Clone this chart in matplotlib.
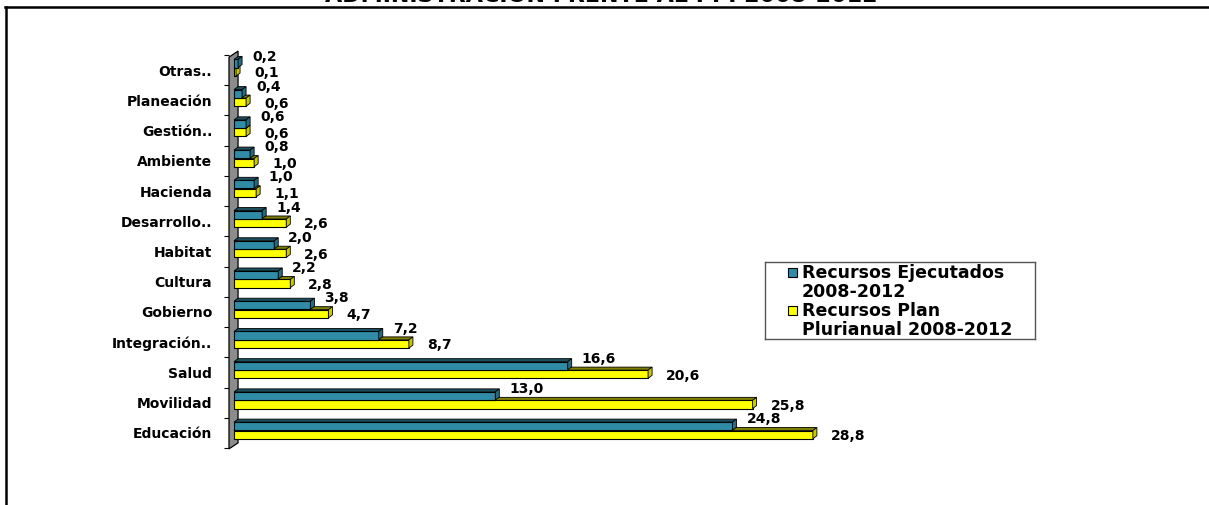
import matplotlib
matplotlib.use('Agg')
import matplotlib.pyplot as plt
from matplotlib.patches import Polygon, Rectangle
from matplotlib.lines import Line2D
import numpy as np

# ---- data (bottom to top) ----
categories = ['Educación', 'Movilidad', 'Salud', 'Integración..', 'Gobierno', 'Cultura',
              'Habitat', 'Desarrollo..', 'Hacienda', 'Ambiente', 'Gestión..', 'Planeación', 'Otras..']
ejecutados = [24.8, 13.0, 16.6, 7.2, 3.8, 2.2, 2.0, 1.4, 1.0, 0.8, 0.6, 0.4, 0.2]
plan = [28.8, 25.8, 20.6, 8.7, 4.7, 2.8, 2.6, 2.6, 1.1, 1.0, 0.6, 0.6, 0.1]
series_labels = ['Recursos Ejecutados\n2008-2012', 'Recursos Plan\nPlurianual 2008-2012']
title = 'ADMINISTRACIÓN FRENTE AL PPI 2008-2012'

BLUE, BLUE_TOP, BLUE_SIDE = '#2f8ba6', '#1b4f5f', '#236c82'
YELLOW, YELLOW_TOP, YELLOW_SIDE = '#ffff00', '#7d7d00', '#c9c900'

W, H = 1209, 505
fig = plt.figure(figsize=(W / 100, H / 100), dpi=100)

# frame + title (cut off at the top, as in the source)
fig.add_artist(Line2D([5 / W, 1], [1 - 7 / H, 1 - 7 / H], color='black', lw=1.8,
                      transform=fig.transFigure))
fig.add_artist(Line2D([6 / W, 6 / W], [0, 1 - 7 / H], color='black', lw=1.8,
                      transform=fig.transFigure))
fig.text(601 / W, 1 - 2 / H, title, ha='center', va='baseline', fontsize=16, fontweight='bold')

ax = fig.add_axes([229 / W, 1 - 451 / H, 809 / W, (451 - 52) / H])
ax.set_xlim(-0.25, 40)
ax.set_ylim(-0.6, 12.6)
for s in ax.spines.values():
    s.set_visible(False)
ax.set_xticks([])

y = np.arange(len(categories))
bh = 0.27
dx, dy = 0.2, 0.1

# gray 3d wall
wall = Polygon([(-0.25, -0.53), (-0.25, 12.43), (0.2, 12.63), (0.2, -0.33)],
               closed=True, fc='#8c8c8c', ec='black', lw=0.9, zorder=2, clip_on=False)
ax.add_patch(wall)

ybars = ax.barh(y - 0.06, plan, height=bh, color=YELLOW, edgecolor='black', lw=0.8, zorder=3)
bbars = ax.barh(y + 0.22, ejecutados, height=bh, color=BLUE, edgecolor='black', lw=0.8, zorder=5)


def add_depth(bars, top, side, z):
    for r in bars:
        x0, y0 = r.get_x(), r.get_y()
        w, hh = r.get_width(), r.get_height()
        ax.add_patch(Polygon([(x0, y0 + hh), (x0 + dx, y0 + hh + dy), (x0 + w + dx, y0 + hh + dy),
                              (x0 + w, y0 + hh)], fc=top, ec='black', lw=0.6, zorder=z))
        ax.add_patch(Polygon([(x0 + w, y0), (x0 + w + dx, y0 + dy), (x0 + w + dx, y0 + hh + dy),
                              (x0 + w, y0 + hh)], fc=side, ec='black', lw=0.6, zorder=z))


add_depth(ybars, YELLOW_TOP, YELLOW_SIDE, 3)
add_depth(bbars, BLUE_TOP, BLUE_SIDE, 5)

# value labels
for r, v in zip(bbars, ejecutados):
    ax.annotate(f'{v:.1f}'.replace('.', ','), (r.get_width(), r.get_y() + bh / 2),
                xytext=(10, 5), textcoords='offset points', ha='left', va='center',
                fontsize=10, fontweight='bold', zorder=6)
for r, v in zip(ybars, plan):
    ax.annotate(f'{v:.1f}'.replace('.', ','), (r.get_width(), r.get_y() + bh / 2),
                xytext=(13, -1), textcoords='offset points', ha='left', va='center',
                fontsize=10, fontweight='bold', zorder=6)

# category ticks
ax.set_yticks(y)
ax.set_yticklabels(categories, fontsize=10, fontweight='bold')
ax.tick_params(axis='y', which='major', length=0, pad=12)
ax.set_yticks(np.arange(-0.5, len(categories)), minor=True)
ax.tick_params(axis='y', which='minor', length=3.6, width=0.8, color='black')

# legend drawn by hand
lax = fig.add_axes([765 / W, 1 - 339 / H, 270 / W, 77 / H])
lax.set_xlim(0, 270)
lax.set_ylim(77, 0)
lax.set_xticks([])
lax.set_yticks([])
for s in lax.spines.values():
    s.set_color('#555555')
    s.set_linewidth(1.0)
for i, (lab, c) in enumerate(zip(series_labels, [BLUE, YELLOW])):
    top = 6 + i * 38
    lax.add_patch(Rectangle((23, top), 9, 9, fc=c, ec='black', lw=0.8))
    lax.text(37, top - 4, lab, ha='left', va='top', fontsize=12.5, fontweight='bold',
             linespacing=1.05)

fig.savefig('out.png', dpi=100)
